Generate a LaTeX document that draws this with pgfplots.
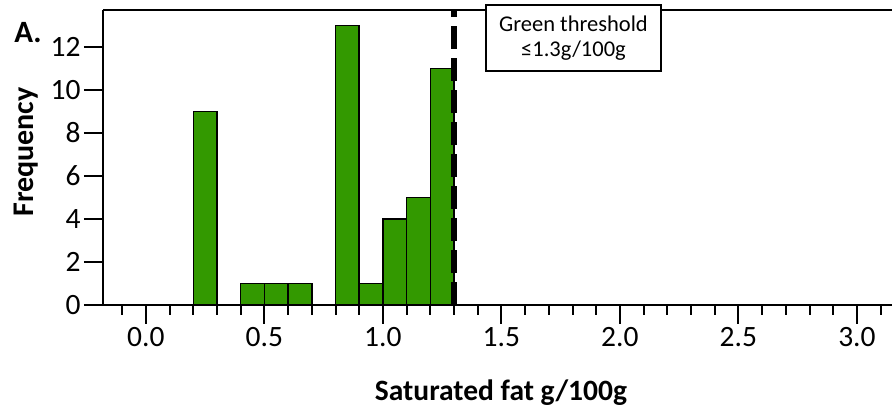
\documentclass[border=0pt]{standalone}
\usepackage{fontspec}
\setmainfont{Carlito}
\usepackage{pgfplots}
\pgfplotsset{compat=1.18}
\usetikzlibrary{calc}
\definecolor{bargreen}{RGB}{51,153,0}
\begin{document}
\begin{tikzpicture}
\begin{axis}[
  scale only axis, width=789pt, height=295pt,
  xmin=-0.181, xmax=3.148, ymin=0, ymax=13.72,
  axis x line=bottom, axis y line=left,
  axis line style={line width=2.6pt, -},
  xtick={0,0.5,1.0,1.5,2.0,2.5,3.0},
  minor xtick={-0.1,0.1,0.2,0.3,0.4,0.6,0.7,0.8,0.9,1.1,1.2,1.3,1.4,1.6,1.7,1.8,1.9,2.1,2.2,2.3,2.4,2.6,2.7,2.8,2.9,3.1},
  ytick={0,2,4,6,8,10,12},
  tick align=outside,
  major tick length=19pt, minor tick length=10pt,
  every tick/.style={black, line width=2pt},
  x tick label style={/pgf/number format/.cd, fixed, fixed zerofill, precision=1},
  /pgf/number format/assume math mode=true,
  tick label style={font=\fontsize{29.5}{31}\selectfont},
  clip=false,
]
\coordinate (o) at (rel axis cs:0,0);
\draw[line width=1.3pt] (rel axis cs:0,1) -- (rel axis cs:1,1);
\addplot[ybar, bar width=0.1, bar shift=0pt, fill=bargreen, draw=black, line width=1.5pt]
  coordinates {(0.25,9) (0.45,1) (0.55,1) (0.65,1) (0.85,13) (0.95,1) (1.05,4) (1.15,5) (1.25,11)};
\addplot[black, line width=6.5pt, dash pattern=on 23pt off 9pt] coordinates {(1.3,0) (1.3,13.72)};
\end{axis}
\node[font=\bfseries\fontsize{29.5}{32}\selectfont, anchor=center] at ($(o)+(398pt,-88pt)$) {Saturated fat g/100g};
\node[font=\bfseries\fontsize{30}{32}\selectfont, rotate=90, anchor=center] at ($(o)+(-77pt,153pt)$) {Frequency};
\node[font=\bfseries\fontsize{31}{33}\selectfont, anchor=center] at ($(o)+(-75pt,272pt)$) {A.};
\node[draw, line width=1.4pt, fill=white, minimum width=175pt, minimum height=66pt, align=center,
  font=\fontsize{22.5}{25}\selectfont, inner sep=2pt] at ($(o)+(470.5pt,267pt)$) {Green threshold\\≤1.3g/100g};
\pgfresetboundingbox
\path (o) ++(-103pt,-107pt) rectangle ++(892pt,412pt);
\end{tikzpicture}
\end{document}
